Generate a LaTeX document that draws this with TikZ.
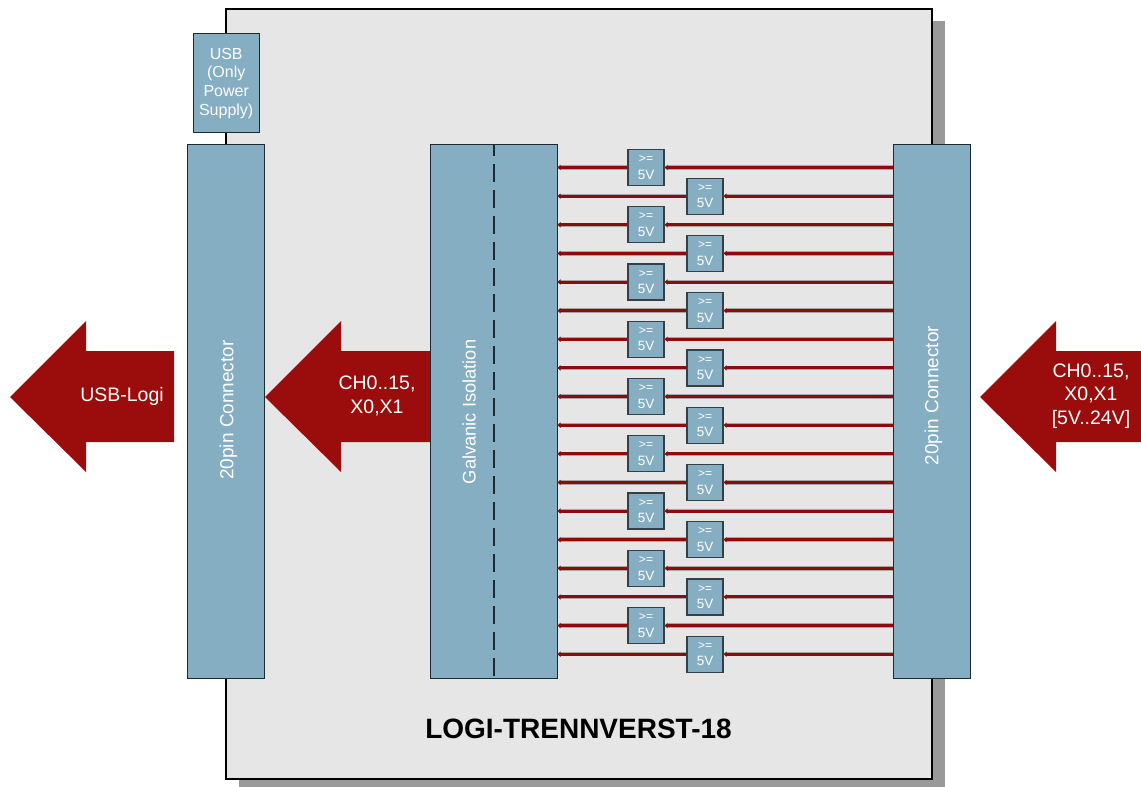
\documentclass[tikz,border=0pt]{standalone}
\usepackage{fontspec}
\setmainfont{Liberation Sans}
\usetikzlibrary{arrows.meta}
\definecolor{blockblue}{HTML}{85AEC2}
\definecolor{darkred}{HTML}{9B0D0D}
\definecolor{panel}{HTML}{E6E6E6}
\definecolor{shadowgrey}{HTML}{999999}
\definecolor{edge}{HTML}{1E2A30}
\tikzset{
  blockbox/.style={draw=edge,line width=1.4pt,fill=blockblue,text=white,inner sep=0pt,align=center,anchor=north west},
  smallbox/.style={draw=edge!90,line width=1.2pt,fill=blockblue,text=white,inner sep=0pt,align=center,minimum width=36pt,minimum height=36pt},
  signal/.style={line width=3pt,draw=darkred!90!black,preaction={draw=black!35,line width=4.4pt},-{Triangle[length=3pt,width=5pt]}},
  bigarrow/.style={fill=darkred,draw=none},
  arrowtext/.style={text=white,align=center,inner sep=0pt,font=\fontsize{19.5}{23.5}\selectfont},
  vlabel/.style={text=white,rotate=90,inner sep=0pt,font=\fontsize{19}{23}\selectfont},
}
\begin{document}
\begin{tikzpicture}[x=1pt,y=-1pt]
\useasboundingbox (0,0) rectangle (1141,787);
% panel and shadow
\fill[shadowgrey] (239,21) rectangle (945,787);
\node[draw=black,line width=2pt,fill=panel,anchor=north west,inner sep=0pt,minimum width=706pt,minimum height=770.5pt] (panel) at (225,7.5) {};
% big arrows
\fill[bigarrow] (10,397) -- (86,321) -- (86,351) -- (174,351) -- (174,442) -- (86,442) -- (86,472) -- cycle;
\fill[bigarrow] (265,397) -- (341,321) -- (341,351) -- (431,351) -- (431,442) -- (341,442) -- (341,472) -- cycle;
\fill[bigarrow] (980,397) -- (1056,321) -- (1056,351) -- (1141,351) -- (1141,442) -- (1056,442) -- (1056,472) -- cycle;
\node[arrowtext] (t1) at (122,396) {USB-Logi};
\node[arrowtext] (t2) at (377,396) {CH0..15,\\X0,X1};
\node[arrowtext] (t3) at (1091,396) {CH0..15,\\X0,X1\\{}[5V..24V]};
% blocks
\node[blockbox,minimum width=66pt,minimum height=99pt,font=\fontsize{16}{18.7}\selectfont] (usb) at (192.5,33) {USB\\(Only\\ Power\\Supply)};
\node[blockbox,minimum width=77pt,minimum height=534pt] (leftconn) at (187,143.5) {};
\node[vlabel] (leftlabel) at (228.5,410) {20pin Connector};
\node[blockbox,minimum width=127pt,minimum height=534pt] (iso) at (430,143.5) {};
\node[vlabel,font=\fontsize{18.3}{22}\selectfont] (isolabel) at (469,412) {Galvanic Isolation};
\coordinate (dashtop) at (494,144);
\coordinate (dashbot) at (494,678);
\draw[edge,line width=1.2pt,dash pattern=on 18pt off 8pt,dash phase=6pt] (dashtop) -- (dashbot);
\node[blockbox,minimum width=77pt,minimum height=534pt] (rightconn) at (892.5,143.5) {};
\node[vlabel] (rightlabel) at (933.5,395.5) {20pin Connector};
% signal channels
\foreach \i in {0,...,17}{
  \pgfmathsetmacro{\yy}{167.5+28.63*\i}
  \pgfmathtruncatemacro{\odd}{mod(\i,2)}
  \ifnum\odd=0 \def\xx{646}\else \def\xx{705}\fi
  \coordinate (L\i) at (557.5,\yy);
  \coordinate (R\i) at (892.5,\yy);
  \node[smallbox] (c\i) at (\xx,\yy) {\fontsize{12}{13}\selectfont >=\\[4.5pt]\fontsize{13.5}{14}\selectfont 5V};
  \draw[signal] (R\i) -- (c\i.east);
  \draw[signal] (c\i.west) -- (L\i);
}
% title
\node[font=\bfseries\fontsize{28}{32}\selectfont,inner sep=0pt] (title) at (578.5,729) {LOGI-TRENNVERST-18};
\end{tikzpicture}
\end{document}
